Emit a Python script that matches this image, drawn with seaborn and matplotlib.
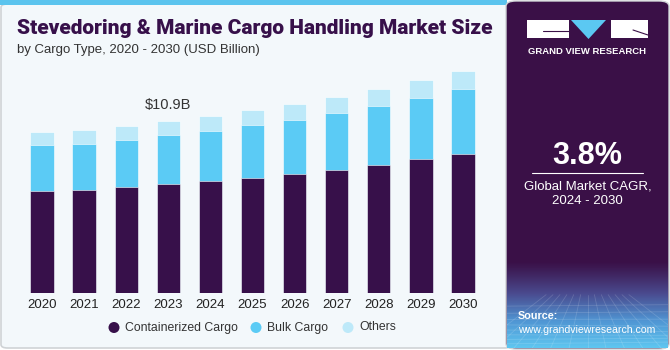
import numpy as np
import pandas as pd
import matplotlib
matplotlib.use("Agg")
import matplotlib.pyplot as plt
import seaborn as sns
from matplotlib.patches import FancyBboxPatch, Rectangle, Polygon, Ellipse
from matplotlib.colors import LinearSegmentedColormap

years = ["2020", "2021", "2022", "2023", "2024", "2025", "2026", "2027", "2028", "2029", "2030"]
containerized = [6.47, 6.53, 6.72, 6.90, 7.10, 7.29, 7.55, 7.82, 8.12, 8.48, 8.81]
bulk = [2.89, 2.93, 2.99, 3.10, 3.16, 3.33, 3.44, 3.59, 3.73, 3.88, 4.11]
others = [0.86, 0.87, 0.87, 0.90, 0.95, 0.95, 0.99, 0.99, 1.06, 1.12, 1.14]
series_names = ["Containerized Cargo", "Bulk Cargo", "Others"]
colors = ["#37104a", "#5bcbf5", "#bde9f9"]
label_year = "2023"
label_text = "$10.9B"
cagr = "3.8%"

W, H = 670, 350
sns.set_theme(style="white")
plt.rcParams["font.family"] = ["Liberation Sans", "DejaVu Sans"]

fig = plt.figure(figsize=(W / 100, H / 100), dpi=100)
fig.patch.set_facecolor("white")

def fx(px):
    return px / W

def fy(py):
    return 1 - py / H

# left panel
bg = FancyBboxPatch((fx(1), fy(348)), fx(510), fy(4) - fy(348),
                    boxstyle="round,pad=0,rounding_size=0.01",
                    transform=fig.transFigure, facecolor="#f3f8fb",
                    edgecolor="#cfd3d6", lw=1.2, zorder=-2)
fig.patches.append(bg)
fig.patches.append(Rectangle((0, fy(5)), fx(507), fy(0) - fy(5), transform=fig.transFigure,
                             facecolor="#5bc4ee", edgecolor="none", zorder=-1))

# right panel
rp = FancyBboxPatch((fx(506), fy(349)), fx(163), fy(1) - fy(349),
                    boxstyle="round,pad=0,rounding_size=0.015",
                    transform=fig.transFigure, facecolor="#3a1047",
                    edgecolor="#cfd3d6", lw=1, zorder=-1)
fig.patches.append(rp)

# gradient at bottom of right panel
gax = fig.add_axes([fx(507), fy(348), fx(161), fy(262) - fy(348)])
gax.set_zorder(1)
grad = np.linspace(0, 1, 100).reshape(-1, 1) ** 1.1
cmap = LinearSegmentedColormap.from_list("g", ["#3a1047", "#4a4a8e", "#5096d4", "#5ec6f0"])
gax.imshow(grad, aspect="auto", cmap=cmap, extent=[0, 1, 0, 1], origin="upper")
# faint mesh
for k in range(1, 14):
    t = k / 14
    gax.plot([0.5 + (t - 0.5) * 0.6, t * 1.6 - 0.3], [0.62, 0], color="white", alpha=0.15, lw=0.6)
for k in range(1, 9):
    yy = 0.62 * (1 - (k / 9) ** 0.7)
    gax.plot([0, 1], [yy, yy + 0.02 * np.sin(k)], color="white", alpha=0.15, lw=0.6)
gax.set_xlim(0, 1)
gax.set_ylim(0, 1)
gax.axis("off")

# bars
df = pd.DataFrame({"year": years, "Containerized": containerized, "Bulk": bulk, "Others": others})
df["c1"] = df["Containerized"]
df["c2"] = df["c1"] + df["Bulk"]
df["c3"] = df["c2"] + df["Others"]

bottom_px, top_px = 293.3, 60
scale = 10.9 / (293.3 - 121)
ax = fig.add_axes([fx(21), fy(bottom_px), fx(484) - fx(21), fy(top_px) - fy(bottom_px)])
ax.set_zorder(1)
ax.set_facecolor("none")
ax.patch.set_alpha(0)
for col, c in zip(["c3", "c2", "c1"], colors[::-1]):
    sns.barplot(data=df, x="year", y=col, color=c, width=0.555, saturation=1,
                ax=ax, edgecolor="white", linewidth=0.4)
ax.set_xlim(-0.5, 10.5)
ax.set_ylim(0, (bottom_px - top_px) * scale)
ax.set_xlabel("")
ax.set_ylabel("")
ax.set_yticks([])
ax.tick_params(axis="x", length=0, pad=4, labelsize=9.5, labelcolor="#222222")
for s in ax.spines.values():
    s.set_visible(False)
i = years.index(label_year)
ax.text(i, df["c3"][i] + 0.55, label_text, ha="center", va="bottom", fontsize=10.5, color="#333333")

# title
fig.text(fx(17), fy(29), "Stevedoring & Marine Cargo Handling Market Size", fontsize=15,
         fontweight="heavy", color="#37104a", va="center", ha="left",
         family=["Roboto", "DejaVu Sans"])
fig.text(fx(17), fy(50), "by Cargo Type, 2020 - 2030 (USD Billion)", fontsize=9.5,
         color="#333333", va="center", ha="left")

# legend
leg_items = [(114, "Containerized Cargo"), (256, "Bulk Cargo"), (348, "Others")]
for (xp, name), c in zip(leg_items, colors):
    fig.patches.append(Ellipse((fx(xp), fy(327.5)), fx(11), 11 / H, transform=fig.transFigure,
                               facecolor=c, edgecolor="none", zorder=5))
    fig.text(fx(xp + 11), fy(327.5), name, fontsize=8.8, color="#333333", va="center", ha="left")

# logo
fig.patches.append(Rectangle((fx(527), fy(38)), fx(42), fy(20) - fy(38), transform=fig.transFigure,
                             facecolor="white", edgecolor="none", zorder=3))
fig.patches.append(Rectangle((fx(611), fy(38)), fx(37), fy(20) - fy(38), transform=fig.transFigure,
                             facecolor="white", edgecolor="none", zorder=3))
fig.patches.append(Polygon([(fx(571), fy(20)), (fx(606), fy(20)), (fx(588.5), fy(39))],
                           transform=fig.transFigure, facecolor="#5bc8f2", edgecolor="none", zorder=3))
fig.lines.append(plt.Line2D([fx(543), fx(569)], [fy(31), fy(31)], transform=fig.transFigure,
                            color="#3a1047", lw=0.8, zorder=4))
fig.lines.append(plt.Line2D([fx(633), fx(648)], [fy(30), fy(35)], transform=fig.transFigure,
                            color="#3a1047", lw=0.8, zorder=4))
fig.text(fx(587.5), fy(51), "GRAND VIEW RESEARCH", fontsize=6.8, fontweight="bold", color="white",
         ha="center", va="center")

fig.text(fx(587.5), fy(156), cagr, fontsize=22, fontweight="bold", color="white",
         ha="center", va="center")
fig.lines.append(plt.Line2D([fx(532), fx(643)], [fy(173), fy(173)], transform=fig.transFigure,
                            color="white", lw=0.8, zorder=4))
fig.text(fx(587.5), fy(186), "Global Market CAGR,", fontsize=9.5, color="white", ha="center", va="center")
fig.text(fx(587.5), fy(201), "2024 - 2030", fontsize=9.5, color="white", ha="center", va="center")

fig.text(fx(518), fy(316), "Source:", fontsize=7.8, fontweight="bold", color="white",
         ha="left", va="center", zorder=5)
fig.text(fx(518), fy(330), "www.grandviewresearch.com", fontsize=7.6, color="white",
         ha="left", va="center", zorder=5)

fig.savefig("out.png", dpi=100)
